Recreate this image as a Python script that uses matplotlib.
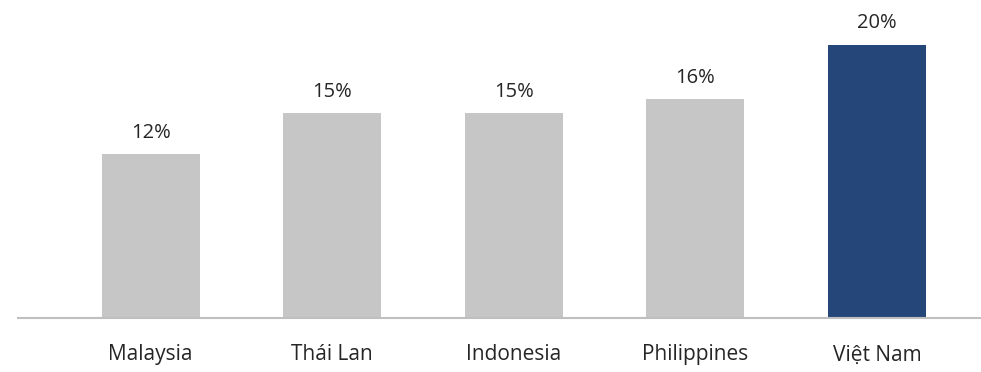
import matplotlib
matplotlib.use('Agg')
import matplotlib.pyplot as plt

countries = ["Malaysia", "Thái Lan", "Indonesia", "Philippines", "Việt Nam"]
values = [12, 15, 15, 16, 20]
labels = ["12%", "15%", "15%", "16%", "20%"]
colors = ["#c6c6c6", "#c6c6c6", "#c6c6c6", "#c6c6c6", "#254678"]

plt.rcParams['font.family'] = ['Open Sans', 'DejaVu Sans']

fig = plt.figure(figsize=(9.81, 3.72), dpi=100)
ax = fig.add_axes([0.018, 0.145, 0.982, 0.855])

x = range(len(countries))
bars = ax.bar(x, values, width=0.54, color=colors)
for b, lab in zip(bars, labels):
    ax.annotate(lab, (b.get_x() + b.get_width() / 2, b.get_height()),
                xytext=(0, 8), textcoords='offset points',
                ha='center', va='bottom', fontsize=14.5, color='#262626')

ax.set_xlim(-0.733, 4.573)
ax.set_ylim(0, 23.26)
ax.set_xticks(list(x))
ax.set_xticklabels(countries, fontsize=15, color='#262626')
ax.tick_params(axis='x', length=0, pad=19)
ax.set_yticks([])
for s in ['top', 'right', 'left']:
    ax.spines[s].set_visible(False)
ax.spines['bottom'].set_color('#bfbfbf')
ax.spines['bottom'].set_linewidth(1.5)

fig.savefig('out.png', dpi=100)
